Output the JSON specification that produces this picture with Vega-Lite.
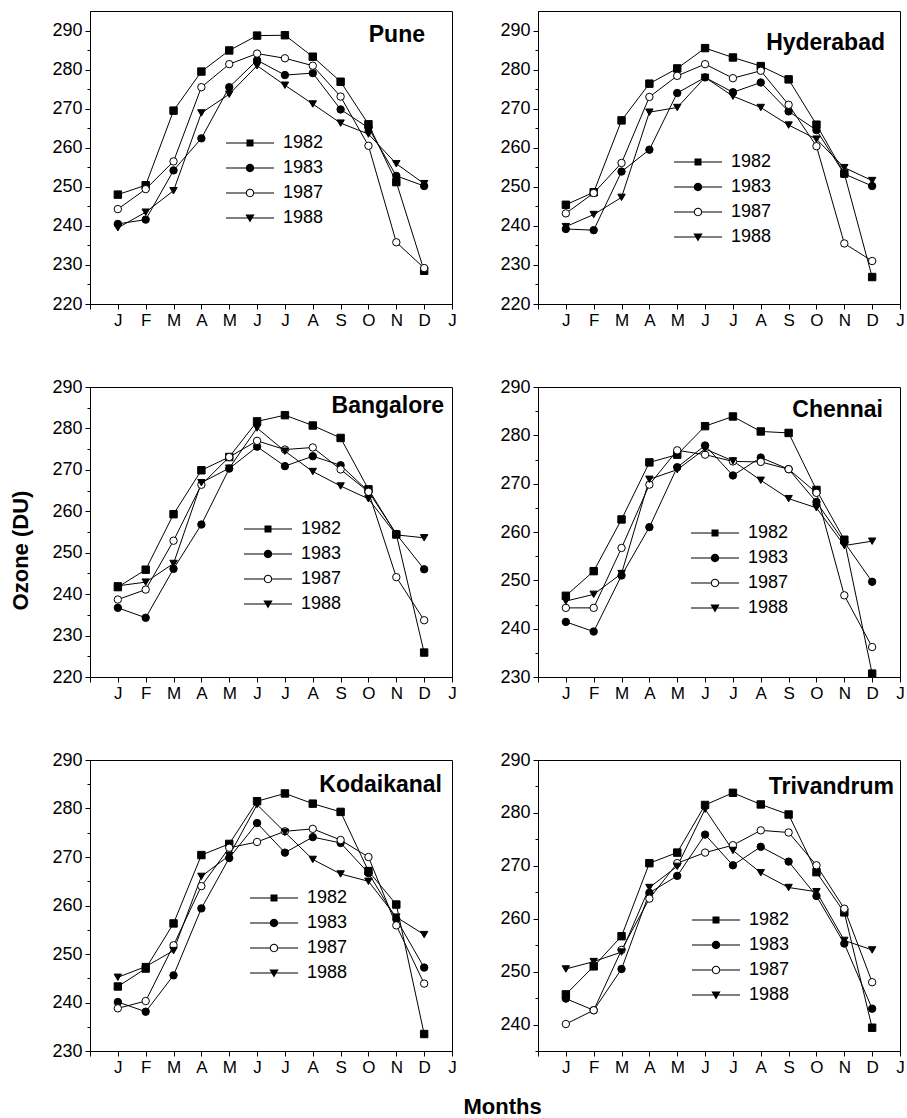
{
"$schema": "https://vega.github.io/schema/vega-lite/v6.json",
"padding": {"left": 8, "top": 10, "right": 5, "bottom": 5},
"config": {
 "view": {"stroke": "black", "strokeWidth": 1},
 "font": "Liberation Sans",
 "axis": {"domainColor": "black", "tickColor": "black", "labelColor": "black", "labelFont": "Liberation Sans", "labelFontSize": 17, "grid": false, "titleFont": "Liberation Sans", "titleColor": "black", "labelOverlap": false, "labelFlush": false, "tickWidth": 1, "domainWidth": 1},
 "axisX": {"labelPadding": 3, "tickSize": 5},
 "axisY": {"labelPadding": 3, "labelFontSize": 18},
 "legend": {"orient": "none", "title": null, "labelFont": "Liberation Sans", "labelFontSize": 18, "labelColor": "black", "padding": 0, "rowPadding": 7, "labelOffset": 24, "symbolSize": 64, "symbolFillColor": "black", "symbolStrokeWidth": 0, "symbolOpacity": 1},
 "title": {"font": "Liberation Sans", "fontSize": 23, "fontWeight": "bold", "color": "black", "anchor": "end", "frame": "group", "baseline": "alphabetic"}
},
"title": {"text": "Months", "orient": "bottom", "anchor": "middle", "fontSize": 22, "baseline": "top", "offset": 21, "dx": 46, "frame": "bounds"},
"datasets": {"oz": [
{"city":"Pune","year":"1982","month":1,"ozone":248.0},{"city":"Pune","year":"1982","month":2,"ozone":250.4},{"city":"Pune","year":"1982","month":3,"ozone":269.5},{"city":"Pune","year":"1982","month":4,"ozone":279.5},{"city":"Pune","year":"1982","month":5,"ozone":284.9},{"city":"Pune","year":"1982","month":6,"ozone":288.7},{"city":"Pune","year":"1982","month":7,"ozone":288.8},{"city":"Pune","year":"1982","month":8,"ozone":283.3},{"city":"Pune","year":"1982","month":9,"ozone":276.9},{"city":"Pune","year":"1982","month":10,"ozone":266.0},{"city":"Pune","year":"1982","month":11,"ozone":251.2},{"city":"Pune","year":"1982","month":12,"ozone":228.5},
{"city":"Pune","year":"1983","month":1,"ozone":240.5},{"city":"Pune","year":"1983","month":2,"ozone":241.6},{"city":"Pune","year":"1983","month":3,"ozone":254.2},{"city":"Pune","year":"1983","month":4,"ozone":262.4},{"city":"Pune","year":"1983","month":5,"ozone":275.5},{"city":"Pune","year":"1983","month":6,"ozone":282.4},{"city":"Pune","year":"1983","month":7,"ozone":278.6},{"city":"Pune","year":"1983","month":8,"ozone":279.1},{"city":"Pune","year":"1983","month":9,"ozone":269.8},{"city":"Pune","year":"1983","month":10,"ozone":265.1},{"city":"Pune","year":"1983","month":11,"ozone":252.8},{"city":"Pune","year":"1983","month":12,"ozone":250.2},
{"city":"Pune","year":"1987","month":1,"ozone":244.3},{"city":"Pune","year":"1987","month":2,"ozone":249.4},{"city":"Pune","year":"1987","month":3,"ozone":256.5},{"city":"Pune","year":"1987","month":4,"ozone":275.5},{"city":"Pune","year":"1987","month":5,"ozone":281.4},{"city":"Pune","year":"1987","month":6,"ozone":284.1},{"city":"Pune","year":"1987","month":7,"ozone":282.9},{"city":"Pune","year":"1987","month":8,"ozone":281.0},{"city":"Pune","year":"1987","month":9,"ozone":273.1},{"city":"Pune","year":"1987","month":10,"ozone":260.5},{"city":"Pune","year":"1987","month":11,"ozone":235.8},{"city":"Pune","year":"1987","month":12,"ozone":229.2},
{"city":"Pune","year":"1988","month":1,"ozone":239.5},{"city":"Pune","year":"1988","month":2,"ozone":243.5},{"city":"Pune","year":"1988","month":3,"ozone":249.0},{"city":"Pune","year":"1988","month":4,"ozone":268.9},{"city":"Pune","year":"1988","month":5,"ozone":273.7},{"city":"Pune","year":"1988","month":6,"ozone":281.0},{"city":"Pune","year":"1988","month":7,"ozone":276.0},{"city":"Pune","year":"1988","month":8,"ozone":271.2},{"city":"Pune","year":"1988","month":9,"ozone":266.3},{"city":"Pune","year":"1988","month":10,"ozone":263.5},{"city":"Pune","year":"1988","month":11,"ozone":255.9},{"city":"Pune","year":"1988","month":12,"ozone":250.8},
{"city":"Hyderabad","year":"1982","month":1,"ozone":245.4},{"city":"Hyderabad","year":"1982","month":2,"ozone":248.6},{"city":"Hyderabad","year":"1982","month":3,"ozone":267.0},{"city":"Hyderabad","year":"1982","month":4,"ozone":276.4},{"city":"Hyderabad","year":"1982","month":5,"ozone":280.3},{"city":"Hyderabad","year":"1982","month":6,"ozone":285.5},{"city":"Hyderabad","year":"1982","month":7,"ozone":283.1},{"city":"Hyderabad","year":"1982","month":8,"ozone":280.9},{"city":"Hyderabad","year":"1982","month":9,"ozone":277.5},{"city":"Hyderabad","year":"1982","month":10,"ozone":265.9},{"city":"Hyderabad","year":"1982","month":11,"ozone":253.4},{"city":"Hyderabad","year":"1982","month":12,"ozone":226.9},
{"city":"Hyderabad","year":"1983","month":1,"ozone":239.2},{"city":"Hyderabad","year":"1983","month":2,"ozone":238.9},{"city":"Hyderabad","year":"1983","month":3,"ozone":253.9},{"city":"Hyderabad","year":"1983","month":4,"ozone":259.5},{"city":"Hyderabad","year":"1983","month":5,"ozone":274.0},{"city":"Hyderabad","year":"1983","month":6,"ozone":278.0},{"city":"Hyderabad","year":"1983","month":7,"ozone":274.2},{"city":"Hyderabad","year":"1983","month":8,"ozone":276.7},{"city":"Hyderabad","year":"1983","month":9,"ozone":269.3},{"city":"Hyderabad","year":"1983","month":10,"ozone":264.5},{"city":"Hyderabad","year":"1983","month":11,"ozone":253.3},{"city":"Hyderabad","year":"1983","month":12,"ozone":250.2},
{"city":"Hyderabad","year":"1987","month":1,"ozone":243.2},{"city":"Hyderabad","year":"1987","month":2,"ozone":248.4},{"city":"Hyderabad","year":"1987","month":3,"ozone":256.1},{"city":"Hyderabad","year":"1987","month":4,"ozone":273.0},{"city":"Hyderabad","year":"1987","month":5,"ozone":278.4},{"city":"Hyderabad","year":"1987","month":6,"ozone":281.4},{"city":"Hyderabad","year":"1987","month":7,"ozone":277.8},{"city":"Hyderabad","year":"1987","month":8,"ozone":279.7},{"city":"Hyderabad","year":"1987","month":9,"ozone":271.0},{"city":"Hyderabad","year":"1987","month":10,"ozone":260.4},{"city":"Hyderabad","year":"1987","month":11,"ozone":235.5},{"city":"Hyderabad","year":"1987","month":12,"ozone":231.0},
{"city":"Hyderabad","year":"1988","month":1,"ozone":239.8},{"city":"Hyderabad","year":"1988","month":2,"ozone":242.9},{"city":"Hyderabad","year":"1988","month":3,"ozone":247.3},{"city":"Hyderabad","year":"1988","month":4,"ozone":269.1},{"city":"Hyderabad","year":"1988","month":5,"ozone":270.3},{"city":"Hyderabad","year":"1988","month":6,"ozone":278.0},{"city":"Hyderabad","year":"1988","month":7,"ozone":273.2},{"city":"Hyderabad","year":"1988","month":8,"ozone":270.3},{"city":"Hyderabad","year":"1988","month":9,"ozone":265.8},{"city":"Hyderabad","year":"1988","month":10,"ozone":262.2},{"city":"Hyderabad","year":"1988","month":11,"ozone":254.9},{"city":"Hyderabad","year":"1988","month":12,"ozone":251.6},
{"city":"Bangalore","year":"1982","month":1,"ozone":241.7},{"city":"Bangalore","year":"1982","month":2,"ozone":245.9},{"city":"Bangalore","year":"1982","month":3,"ozone":259.3},{"city":"Bangalore","year":"1982","month":4,"ozone":269.9},{"city":"Bangalore","year":"1982","month":5,"ozone":273.1},{"city":"Bangalore","year":"1982","month":6,"ozone":281.7},{"city":"Bangalore","year":"1982","month":7,"ozone":283.2},{"city":"Bangalore","year":"1982","month":8,"ozone":280.7},{"city":"Bangalore","year":"1982","month":9,"ozone":277.7},{"city":"Bangalore","year":"1982","month":10,"ozone":265.3},{"city":"Bangalore","year":"1982","month":11,"ozone":254.4},{"city":"Bangalore","year":"1982","month":12,"ozone":225.9},
{"city":"Bangalore","year":"1983","month":1,"ozone":236.7},{"city":"Bangalore","year":"1983","month":2,"ozone":234.3},{"city":"Bangalore","year":"1983","month":3,"ozone":246.1},{"city":"Bangalore","year":"1983","month":4,"ozone":256.8},{"city":"Bangalore","year":"1983","month":5,"ozone":270.3},{"city":"Bangalore","year":"1983","month":6,"ozone":275.6},{"city":"Bangalore","year":"1983","month":7,"ozone":270.9},{"city":"Bangalore","year":"1983","month":8,"ozone":273.3},{"city":"Bangalore","year":"1983","month":9,"ozone":271.1},{"city":"Bangalore","year":"1983","month":10,"ozone":264.8},{"city":"Bangalore","year":"1983","month":11,"ozone":254.5},{"city":"Bangalore","year":"1983","month":12,"ozone":246.0},
{"city":"Bangalore","year":"1987","month":1,"ozone":238.7},{"city":"Bangalore","year":"1987","month":2,"ozone":241.1},{"city":"Bangalore","year":"1987","month":3,"ozone":252.9},{"city":"Bangalore","year":"1987","month":4,"ozone":266.4},{"city":"Bangalore","year":"1987","month":5,"ozone":273.1},{"city":"Bangalore","year":"1987","month":6,"ozone":277.0},{"city":"Bangalore","year":"1987","month":7,"ozone":274.9},{"city":"Bangalore","year":"1987","month":8,"ozone":275.4},{"city":"Bangalore","year":"1987","month":9,"ozone":270.1},{"city":"Bangalore","year":"1987","month":10,"ozone":264.7},{"city":"Bangalore","year":"1987","month":11,"ozone":244.1},{"city":"Bangalore","year":"1987","month":12,"ozone":233.7},
{"city":"Bangalore","year":"1988","month":1,"ozone":242.0},{"city":"Bangalore","year":"1988","month":2,"ozone":242.9},{"city":"Bangalore","year":"1988","month":3,"ozone":247.4},{"city":"Bangalore","year":"1988","month":4,"ozone":266.9},{"city":"Bangalore","year":"1988","month":5,"ozone":270.4},{"city":"Bangalore","year":"1988","month":6,"ozone":280.1},{"city":"Bangalore","year":"1988","month":7,"ozone":274.5},{"city":"Bangalore","year":"1988","month":8,"ozone":269.6},{"city":"Bangalore","year":"1988","month":9,"ozone":266.1},{"city":"Bangalore","year":"1988","month":10,"ozone":263.0},{"city":"Bangalore","year":"1988","month":11,"ozone":254.3},{"city":"Bangalore","year":"1988","month":12,"ozone":253.6},
{"city":"Chennai","year":"1982","month":1,"ozone":246.8},{"city":"Chennai","year":"1982","month":2,"ozone":251.9},{"city":"Chennai","year":"1982","month":3,"ozone":262.6},{"city":"Chennai","year":"1982","month":4,"ozone":274.4},{"city":"Chennai","year":"1982","month":5,"ozone":276.0},{"city":"Chennai","year":"1982","month":6,"ozone":281.9},{"city":"Chennai","year":"1982","month":7,"ozone":283.9},{"city":"Chennai","year":"1982","month":8,"ozone":280.8},{"city":"Chennai","year":"1982","month":9,"ozone":280.5},{"city":"Chennai","year":"1982","month":10,"ozone":268.7},{"city":"Chennai","year":"1982","month":11,"ozone":258.4},{"city":"Chennai","year":"1982","month":12,"ozone":230.7},
{"city":"Chennai","year":"1983","month":1,"ozone":241.4},{"city":"Chennai","year":"1983","month":2,"ozone":239.4},{"city":"Chennai","year":"1983","month":3,"ozone":251.0},{"city":"Chennai","year":"1983","month":4,"ozone":261.0},{"city":"Chennai","year":"1983","month":5,"ozone":273.4},{"city":"Chennai","year":"1983","month":6,"ozone":277.9},{"city":"Chennai","year":"1983","month":7,"ozone":271.7},{"city":"Chennai","year":"1983","month":8,"ozone":275.4},{"city":"Chennai","year":"1983","month":9,"ozone":273.0},{"city":"Chennai","year":"1983","month":10,"ozone":266.2},{"city":"Chennai","year":"1983","month":11,"ozone":257.9},{"city":"Chennai","year":"1983","month":12,"ozone":249.7},
{"city":"Chennai","year":"1987","month":1,"ozone":244.3},{"city":"Chennai","year":"1987","month":2,"ozone":244.3},{"city":"Chennai","year":"1987","month":3,"ozone":256.7},{"city":"Chennai","year":"1987","month":4,"ozone":269.8},{"city":"Chennai","year":"1987","month":5,"ozone":276.9},{"city":"Chennai","year":"1987","month":6,"ozone":276.0},{"city":"Chennai","year":"1987","month":7,"ozone":274.6},{"city":"Chennai","year":"1987","month":8,"ozone":274.5},{"city":"Chennai","year":"1987","month":9,"ozone":273.0},{"city":"Chennai","year":"1987","month":10,"ozone":268.1},{"city":"Chennai","year":"1987","month":11,"ozone":246.9},{"city":"Chennai","year":"1987","month":12,"ozone":236.2},
{"city":"Chennai","year":"1988","month":1,"ozone":245.7},{"city":"Chennai","year":"1988","month":2,"ozone":247.1},{"city":"Chennai","year":"1988","month":3,"ozone":251.4},{"city":"Chennai","year":"1988","month":4,"ozone":270.9},{"city":"Chennai","year":"1988","month":5,"ozone":272.9},{"city":"Chennai","year":"1988","month":6,"ozone":277.2},{"city":"Chennai","year":"1988","month":7,"ozone":274.7},{"city":"Chennai","year":"1988","month":8,"ozone":270.7},{"city":"Chennai","year":"1988","month":9,"ozone":266.9},{"city":"Chennai","year":"1988","month":10,"ozone":265.0},{"city":"Chennai","year":"1988","month":11,"ozone":257.2},{"city":"Chennai","year":"1988","month":12,"ozone":258.1},
{"city":"Kodaikanal","year":"1982","month":1,"ozone":243.3},{"city":"Kodaikanal","year":"1982","month":2,"ozone":247.0},{"city":"Kodaikanal","year":"1982","month":3,"ozone":256.3},{"city":"Kodaikanal","year":"1982","month":4,"ozone":270.4},{"city":"Kodaikanal","year":"1982","month":5,"ozone":272.7},{"city":"Kodaikanal","year":"1982","month":6,"ozone":281.5},{"city":"Kodaikanal","year":"1982","month":7,"ozone":283.1},{"city":"Kodaikanal","year":"1982","month":8,"ozone":281.0},{"city":"Kodaikanal","year":"1982","month":9,"ozone":279.3},{"city":"Kodaikanal","year":"1982","month":10,"ozone":267.1},{"city":"Kodaikanal","year":"1982","month":11,"ozone":260.2},{"city":"Kodaikanal","year":"1982","month":12,"ozone":233.5},
{"city":"Kodaikanal","year":"1983","month":1,"ozone":240.1},{"city":"Kodaikanal","year":"1983","month":2,"ozone":238.1},{"city":"Kodaikanal","year":"1983","month":3,"ozone":245.6},{"city":"Kodaikanal","year":"1983","month":4,"ozone":259.4},{"city":"Kodaikanal","year":"1983","month":5,"ozone":269.8},{"city":"Kodaikanal","year":"1983","month":6,"ozone":277.0},{"city":"Kodaikanal","year":"1983","month":7,"ozone":270.9},{"city":"Kodaikanal","year":"1983","month":8,"ozone":274.1},{"city":"Kodaikanal","year":"1983","month":9,"ozone":272.9},{"city":"Kodaikanal","year":"1983","month":10,"ozone":266.7},{"city":"Kodaikanal","year":"1983","month":11,"ozone":257.2},{"city":"Kodaikanal","year":"1983","month":12,"ozone":247.2},
{"city":"Kodaikanal","year":"1987","month":1,"ozone":238.8},{"city":"Kodaikanal","year":"1987","month":2,"ozone":240.3},{"city":"Kodaikanal","year":"1987","month":3,"ozone":251.8},{"city":"Kodaikanal","year":"1987","month":4,"ozone":264.0},{"city":"Kodaikanal","year":"1987","month":5,"ozone":271.9},{"city":"Kodaikanal","year":"1987","month":6,"ozone":273.1},{"city":"Kodaikanal","year":"1987","month":7,"ozone":275.3},{"city":"Kodaikanal","year":"1987","month":8,"ozone":275.8},{"city":"Kodaikanal","year":"1987","month":9,"ozone":273.5},{"city":"Kodaikanal","year":"1987","month":10,"ozone":270.0},{"city":"Kodaikanal","year":"1987","month":11,"ozone":255.9},{"city":"Kodaikanal","year":"1987","month":12,"ozone":243.9},
{"city":"Kodaikanal","year":"1988","month":1,"ozone":245.2},{"city":"Kodaikanal","year":"1988","month":2,"ozone":247.4},{"city":"Kodaikanal","year":"1988","month":3,"ozone":250.7},{"city":"Kodaikanal","year":"1988","month":4,"ozone":266.0},{"city":"Kodaikanal","year":"1988","month":5,"ozone":270.3},{"city":"Kodaikanal","year":"1988","month":6,"ozone":280.8},{"city":"Kodaikanal","year":"1988","month":7,"ozone":275.1},{"city":"Kodaikanal","year":"1988","month":8,"ozone":269.5},{"city":"Kodaikanal","year":"1988","month":9,"ozone":266.5},{"city":"Kodaikanal","year":"1988","month":10,"ozone":265.0},{"city":"Kodaikanal","year":"1988","month":11,"ozone":257.6},{"city":"Kodaikanal","year":"1988","month":12,"ozone":254.0},
{"city":"Trivandrum","year":"1982","month":1,"ozone":245.7},{"city":"Trivandrum","year":"1982","month":2,"ozone":251.0},{"city":"Trivandrum","year":"1982","month":3,"ozone":256.7},{"city":"Trivandrum","year":"1982","month":4,"ozone":270.5},{"city":"Trivandrum","year":"1982","month":5,"ozone":272.5},{"city":"Trivandrum","year":"1982","month":6,"ozone":281.5},{"city":"Trivandrum","year":"1982","month":7,"ozone":283.8},{"city":"Trivandrum","year":"1982","month":8,"ozone":281.6},{"city":"Trivandrum","year":"1982","month":9,"ozone":279.7},{"city":"Trivandrum","year":"1982","month":10,"ozone":268.8},{"city":"Trivandrum","year":"1982","month":11,"ozone":261.2},{"city":"Trivandrum","year":"1982","month":12,"ozone":239.4},
{"city":"Trivandrum","year":"1983","month":1,"ozone":244.9},{"city":"Trivandrum","year":"1983","month":2,"ozone":242.7},{"city":"Trivandrum","year":"1983","month":3,"ozone":250.5},{"city":"Trivandrum","year":"1983","month":4,"ozone":264.9},{"city":"Trivandrum","year":"1983","month":5,"ozone":268.1},{"city":"Trivandrum","year":"1983","month":6,"ozone":275.9},{"city":"Trivandrum","year":"1983","month":7,"ozone":270.1},{"city":"Trivandrum","year":"1983","month":8,"ozone":273.6},{"city":"Trivandrum","year":"1983","month":9,"ozone":270.8},{"city":"Trivandrum","year":"1983","month":10,"ozone":264.3},{"city":"Trivandrum","year":"1983","month":11,"ozone":255.3},{"city":"Trivandrum","year":"1983","month":12,"ozone":243.0},
{"city":"Trivandrum","year":"1987","month":1,"ozone":240.1},{"city":"Trivandrum","year":"1987","month":2,"ozone":242.7},{"city":"Trivandrum","year":"1987","month":3,"ozone":254.1},{"city":"Trivandrum","year":"1987","month":4,"ozone":263.8},{"city":"Trivandrum","year":"1987","month":5,"ozone":270.5},{"city":"Trivandrum","year":"1987","month":6,"ozone":272.5},{"city":"Trivandrum","year":"1987","month":7,"ozone":273.9},{"city":"Trivandrum","year":"1987","month":8,"ozone":276.7},{"city":"Trivandrum","year":"1987","month":9,"ozone":276.3},{"city":"Trivandrum","year":"1987","month":10,"ozone":270.1},{"city":"Trivandrum","year":"1987","month":11,"ozone":261.9},{"city":"Trivandrum","year":"1987","month":12,"ozone":248.0},
{"city":"Trivandrum","year":"1988","month":1,"ozone":250.5},{"city":"Trivandrum","year":"1988","month":2,"ozone":251.9},{"city":"Trivandrum","year":"1988","month":3,"ozone":253.7},{"city":"Trivandrum","year":"1988","month":4,"ozone":265.9},{"city":"Trivandrum","year":"1988","month":5,"ozone":269.9},{"city":"Trivandrum","year":"1988","month":6,"ozone":280.7},{"city":"Trivandrum","year":"1988","month":7,"ozone":272.9},{"city":"Trivandrum","year":"1988","month":8,"ozone":268.7},{"city":"Trivandrum","year":"1988","month":9,"ozone":265.9},{"city":"Trivandrum","year":"1988","month":10,"ozone":265.1},{"city":"Trivandrum","year":"1988","month":11,"ozone":255.9},{"city":"Trivandrum","year":"1988","month":12,"ozone":254.1}
]},
"columns": 2,
"bounds": "flush",
"spacing": {"row": 83, "column": 86},
"resolve": {"scale": {"shape": "independent", "fill": "independent"}},
"concat": [
{"width": 362, "height": 293, "data": {"name": "oz"}, "transform": [{"filter": "datum.city == 'Pune'"}],
 "title": {"text": "Pune", "dx": -27, "offset": -36},
 "encoding": {
  "x": {"field": "month", "type": "quantitative", "scale": {"domain": [0, 13], "nice": false}, "axis": {"title": null, "values": [0,1,2,3,4,5,6,7,8,9,10,11,12,13], "labelExpr": "['','J','F','M','A','M','J','J','A','S','O','N','D','J'][datum.value]"}},
  "y": {"field": "ozone", "type": "quantitative", "scale": {"domain": [220, 295], "nice": false, "zero": false}, "axis": {"title": null, "values": [220,225,230,235,240,245,250,255,260,265,270,275,280,285,290], "labelExpr": "datum.value % 10 == 0 ? datum.label : ''", "tickSize": {"condition": {"test": "datum.value % 10 != 0", "value": 3}, "value": 5}}}
 },
 "resolve": {"scale": {"shape": "independent", "fill": "independent"}},
 "layer": [
  {"mark": {"type": "line", "color": "black", "strokeWidth": 1}, "encoding": {"detail": {"field": "year", "type": "nominal"}}},
  {"mark": {"type": "point", "filled": true, "size": 55, "stroke": "black", "strokeWidth": 1, "opacity": 1},
   "encoding": {
    "shape": {"field": "year", "type": "nominal", "scale": {"domain": ["1982","1983","1987","1988"], "range": ["square","circle","circle","triangle-down"]}, "legend": null},
    "fill": {"field": "year", "type": "nominal", "scale": {"domain": ["1982","1983","1987","1988"], "range": ["black","black","white","black"]}, "legend": null}
   }},
  {"transform": [{"filter": "datum.month > 12"}],
   "mark": {"type": "point", "filled": true, "color": "black"},
   "encoding": {
    "shape": {"field": "year", "type": "nominal", "scale": {"domain": ["1982","1983","1987","1988"], "range": ["M-6,-0.125H6V0.125H-6ZM-0.875,-0.875H0.875V0.875H-0.875Z", "M-6,-0.125H-1V0.125H-6ZM1,-0.125H6V0.125H1ZM-1.05,0A1.05,1.05,0,1,1,1.05,0A1.05,1.05,0,1,1,-1.05,0Z", "M-6,-0.125H-1V0.125H-6ZM1,-0.125H6V0.125H1ZM-1.05,0A1.05,1.05,0,1,1,1.05,0A1.05,1.05,0,1,1,-1.05,0ZM-0.8,0A0.8,0.8,0,1,0,0.8,0A0.8,0.8,0,1,0,-0.8,0Z", "M-6,-0.125H6V0.125H-6ZM-1.15,-0.9H1.15L0,1.1Z"]}, "legend": {"legendX": 151, "legendY": 123}}
   }}
 ]},
{"width": 362, "height": 293, "data": {"name": "oz"}, "transform": [{"filter": "datum.city == 'Hyderabad'"}],
 "title": {"text": "Hyderabad", "dx": -15, "offset": -44},
 "encoding": {
  "x": {"field": "month", "type": "quantitative", "scale": {"domain": [0, 13], "nice": false}, "axis": {"title": null, "values": [0,1,2,3,4,5,6,7,8,9,10,11,12,13], "labelExpr": "['','J','F','M','A','M','J','J','A','S','O','N','D','J'][datum.value]"}},
  "y": {"field": "ozone", "type": "quantitative", "scale": {"domain": [220, 295], "nice": false, "zero": false}, "axis": {"title": null, "values": [220,225,230,235,240,245,250,255,260,265,270,275,280,285,290], "labelExpr": "datum.value % 10 == 0 ? datum.label : ''", "tickSize": {"condition": {"test": "datum.value % 10 != 0", "value": 3}, "value": 5}}}
 },
 "resolve": {"scale": {"shape": "independent", "fill": "independent"}},
 "layer": [
  {"mark": {"type": "line", "color": "black", "strokeWidth": 1}, "encoding": {"detail": {"field": "year", "type": "nominal"}}},
  {"mark": {"type": "point", "filled": true, "size": 55, "stroke": "black", "strokeWidth": 1, "opacity": 1},
   "encoding": {
    "shape": {"field": "year", "type": "nominal", "scale": {"domain": ["1982","1983","1987","1988"], "range": ["square","circle","circle","triangle-down"]}, "legend": null},
    "fill": {"field": "year", "type": "nominal", "scale": {"domain": ["1982","1983","1987","1988"], "range": ["black","black","white","black"]}, "legend": null}
   }},
  {"transform": [{"filter": "datum.month > 12"}],
   "mark": {"type": "point", "filled": true, "color": "black"},
   "encoding": {
    "shape": {"field": "year", "type": "nominal", "scale": {"domain": ["1982","1983","1987","1988"], "range": ["M-6,-0.125H6V0.125H-6ZM-0.875,-0.875H0.875V0.875H-0.875Z", "M-6,-0.125H-1V0.125H-6ZM1,-0.125H6V0.125H1ZM-1.05,0A1.05,1.05,0,1,1,1.05,0A1.05,1.05,0,1,1,-1.05,0Z", "M-6,-0.125H-1V0.125H-6ZM1,-0.125H6V0.125H1ZM-1.05,0A1.05,1.05,0,1,1,1.05,0A1.05,1.05,0,1,1,-1.05,0ZM-0.8,0A0.8,0.8,0,1,0,0.8,0A0.8,0.8,0,1,0,-0.8,0Z", "M-6,-0.125H6V0.125H-6ZM-1.15,-0.9H1.15L0,1.1Z"]}, "legend": {"legendX": 151, "legendY": 142}}
   }}
 ]},
{"width": 362, "height": 290, "data": {"name": "oz"}, "transform": [{"filter": "datum.city == 'Bangalore'"}],
 "title": {"text": "Bangalore", "dx": -8, "offset": -40},
 "encoding": {
  "x": {"field": "month", "type": "quantitative", "scale": {"domain": [0, 13], "nice": false}, "axis": {"title": null, "values": [0,1,2,3,4,5,6,7,8,9,10,11,12,13], "labelExpr": "['','J','F','M','A','M','J','J','A','S','O','N','D','J'][datum.value]"}},
  "y": {"field": "ozone", "type": "quantitative", "scale": {"domain": [220, 290], "nice": false, "zero": false}, "axis": {"title": "Ozone (DU)", "titleFontSize": 22, "titleFontWeight": "bold", "titleX": -58, "titleY": 163, "titleAngle": 270, "titleAlign": "center", "titleBaseline": "bottom", "values": [220,225,230,235,240,245,250,255,260,265,270,275,280,285,290], "labelExpr": "datum.value % 10 == 0 ? datum.label : ''", "tickSize": {"condition": {"test": "datum.value % 10 != 0", "value": 3}, "value": 5}}}
 },
 "resolve": {"scale": {"shape": "independent", "fill": "independent"}},
 "layer": [
  {"mark": {"type": "line", "color": "black", "strokeWidth": 1}, "encoding": {"detail": {"field": "year", "type": "nominal"}}},
  {"mark": {"type": "point", "filled": true, "size": 55, "stroke": "black", "strokeWidth": 1, "opacity": 1},
   "encoding": {
    "shape": {"field": "year", "type": "nominal", "scale": {"domain": ["1982","1983","1987","1988"], "range": ["square","circle","circle","triangle-down"]}, "legend": null},
    "fill": {"field": "year", "type": "nominal", "scale": {"domain": ["1982","1983","1987","1988"], "range": ["black","black","white","black"]}, "legend": null}
   }},
  {"transform": [{"filter": "datum.month > 12"}],
   "mark": {"type": "point", "filled": true, "color": "black"},
   "encoding": {
    "shape": {"field": "year", "type": "nominal", "scale": {"domain": ["1982","1983","1987","1988"], "range": ["M-6,-0.125H6V0.125H-6ZM-0.875,-0.875H0.875V0.875H-0.875Z", "M-6,-0.125H-1V0.125H-6ZM1,-0.125H6V0.125H1ZM-1.05,0A1.05,1.05,0,1,1,1.05,0A1.05,1.05,0,1,1,-1.05,0Z", "M-6,-0.125H-1V0.125H-6ZM1,-0.125H6V0.125H1ZM-1.05,0A1.05,1.05,0,1,1,1.05,0A1.05,1.05,0,1,1,-1.05,0ZM-0.8,0A0.8,0.8,0,1,0,0.8,0A0.8,0.8,0,1,0,-0.8,0Z", "M-6,-0.125H6V0.125H-6ZM-1.15,-0.9H1.15L0,1.1Z"]}, "legend": {"legendX": 169, "legendY": 133}}
   }}
 ]},
{"width": 362, "height": 290, "data": {"name": "oz"}, "transform": [{"filter": "datum.city == 'Chennai'"}],
 "title": {"text": "Chennai", "dx": -17, "offset": -44},
 "encoding": {
  "x": {"field": "month", "type": "quantitative", "scale": {"domain": [0, 13], "nice": false}, "axis": {"title": null, "values": [0,1,2,3,4,5,6,7,8,9,10,11,12,13], "labelExpr": "['','J','F','M','A','M','J','J','A','S','O','N','D','J'][datum.value]"}},
  "y": {"field": "ozone", "type": "quantitative", "scale": {"domain": [230, 290], "nice": false, "zero": false}, "axis": {"title": null, "values": [230,235,240,245,250,255,260,265,270,275,280,285,290], "labelExpr": "datum.value % 10 == 0 ? datum.label : ''", "tickSize": {"condition": {"test": "datum.value % 10 != 0", "value": 3}, "value": 5}}}
 },
 "resolve": {"scale": {"shape": "independent", "fill": "independent"}},
 "layer": [
  {"mark": {"type": "line", "color": "black", "strokeWidth": 1}, "encoding": {"detail": {"field": "year", "type": "nominal"}}},
  {"mark": {"type": "point", "filled": true, "size": 55, "stroke": "black", "strokeWidth": 1, "opacity": 1},
   "encoding": {
    "shape": {"field": "year", "type": "nominal", "scale": {"domain": ["1982","1983","1987","1988"], "range": ["square","circle","circle","triangle-down"]}, "legend": null},
    "fill": {"field": "year", "type": "nominal", "scale": {"domain": ["1982","1983","1987","1988"], "range": ["black","black","white","black"]}, "legend": null}
   }},
  {"transform": [{"filter": "datum.month > 12"}],
   "mark": {"type": "point", "filled": true, "color": "black"},
   "encoding": {
    "shape": {"field": "year", "type": "nominal", "scale": {"domain": ["1982","1983","1987","1988"], "range": ["M-6,-0.125H6V0.125H-6ZM-0.875,-0.875H0.875V0.875H-0.875Z", "M-6,-0.125H-1V0.125H-6ZM1,-0.125H6V0.125H1ZM-1.05,0A1.05,1.05,0,1,1,1.05,0A1.05,1.05,0,1,1,-1.05,0Z", "M-6,-0.125H-1V0.125H-6ZM1,-0.125H6V0.125H1ZM-1.05,0A1.05,1.05,0,1,1,1.05,0A1.05,1.05,0,1,1,-1.05,0ZM-0.8,0A0.8,0.8,0,1,0,0.8,0A0.8,0.8,0,1,0,-0.8,0Z", "M-6,-0.125H6V0.125H-6ZM-1.15,-0.9H1.15L0,1.1Z"]}, "legend": {"legendX": 168, "legendY": 137}}
   }}
 ]},
{"width": 362, "height": 291, "data": {"name": "oz"}, "transform": [{"filter": "datum.city == 'Kodaikanal'"}],
 "title": {"text": "Kodaikanal", "dx": -10, "offset": -46},
 "encoding": {
  "x": {"field": "month", "type": "quantitative", "scale": {"domain": [0, 13], "nice": false}, "axis": {"title": null, "values": [0,1,2,3,4,5,6,7,8,9,10,11,12,13], "labelExpr": "['','J','F','M','A','M','J','J','A','S','O','N','D','J'][datum.value]"}},
  "y": {"field": "ozone", "type": "quantitative", "scale": {"domain": [230, 290], "nice": false, "zero": false}, "axis": {"title": null, "values": [230,235,240,245,250,255,260,265,270,275,280,285,290], "labelExpr": "datum.value % 10 == 0 ? datum.label : ''", "tickSize": {"condition": {"test": "datum.value % 10 != 0", "value": 3}, "value": 5}}}
 },
 "resolve": {"scale": {"shape": "independent", "fill": "independent"}},
 "layer": [
  {"mark": {"type": "line", "color": "black", "strokeWidth": 1}, "encoding": {"detail": {"field": "year", "type": "nominal"}}},
  {"mark": {"type": "point", "filled": true, "size": 55, "stroke": "black", "strokeWidth": 1, "opacity": 1},
   "encoding": {
    "shape": {"field": "year", "type": "nominal", "scale": {"domain": ["1982","1983","1987","1988"], "range": ["square","circle","circle","triangle-down"]}, "legend": null},
    "fill": {"field": "year", "type": "nominal", "scale": {"domain": ["1982","1983","1987","1988"], "range": ["black","black","white","black"]}, "legend": null}
   }},
  {"transform": [{"filter": "datum.month > 12"}],
   "mark": {"type": "point", "filled": true, "color": "black"},
   "encoding": {
    "shape": {"field": "year", "type": "nominal", "scale": {"domain": ["1982","1983","1987","1988"], "range": ["M-6,-0.125H6V0.125H-6ZM-0.875,-0.875H0.875V0.875H-0.875Z", "M-6,-0.125H-1V0.125H-6ZM1,-0.125H6V0.125H1ZM-1.05,0A1.05,1.05,0,1,1,1.05,0A1.05,1.05,0,1,1,-1.05,0Z", "M-6,-0.125H-1V0.125H-6ZM1,-0.125H6V0.125H1ZM-1.05,0A1.05,1.05,0,1,1,1.05,0A1.05,1.05,0,1,1,-1.05,0ZM-0.8,0A0.8,0.8,0,1,0,0.8,0A0.8,0.8,0,1,0,-0.8,0Z", "M-6,-0.125H6V0.125H-6ZM-1.15,-0.9H1.15L0,1.1Z"]}, "legend": {"legendX": 175, "legendY": 129}}
   }}
 ]},
{"width": 362, "height": 291, "data": {"name": "oz"}, "transform": [{"filter": "datum.city == 'Trivandrum'"}],
 "title": {"text": "Trivandrum", "dx": -6, "offset": -48},
 "encoding": {
  "x": {"field": "month", "type": "quantitative", "scale": {"domain": [0, 13], "nice": false}, "axis": {"title": null, "values": [0,1,2,3,4,5,6,7,8,9,10,11,12,13], "labelExpr": "['','J','F','M','A','M','J','J','A','S','O','N','D','J'][datum.value]"}},
  "y": {"field": "ozone", "type": "quantitative", "scale": {"domain": [235, 290], "nice": false, "zero": false}, "axis": {"title": null, "values": [235,240,245,250,255,260,265,270,275,280,285,290], "labelExpr": "datum.value % 10 == 0 ? datum.label : ''", "tickSize": {"condition": {"test": "datum.value % 10 != 0", "value": 3}, "value": 5}}}
 },
 "resolve": {"scale": {"shape": "independent", "fill": "independent"}},
 "layer": [
  {"mark": {"type": "line", "color": "black", "strokeWidth": 1}, "encoding": {"detail": {"field": "year", "type": "nominal"}}},
  {"mark": {"type": "point", "filled": true, "size": 55, "stroke": "black", "strokeWidth": 1, "opacity": 1},
   "encoding": {
    "shape": {"field": "year", "type": "nominal", "scale": {"domain": ["1982","1983","1987","1988"], "range": ["square","circle","circle","triangle-down"]}, "legend": null},
    "fill": {"field": "year", "type": "nominal", "scale": {"domain": ["1982","1983","1987","1988"], "range": ["black","black","white","black"]}, "legend": null}
   }},
  {"transform": [{"filter": "datum.month > 12"}],
   "mark": {"type": "point", "filled": true, "color": "black"},
   "encoding": {
    "shape": {"field": "year", "type": "nominal", "scale": {"domain": ["1982","1983","1987","1988"], "range": ["M-6,-0.125H6V0.125H-6ZM-0.875,-0.875H0.875V0.875H-0.875Z", "M-6,-0.125H-1V0.125H-6ZM1,-0.125H6V0.125H1ZM-1.05,0A1.05,1.05,0,1,1,1.05,0A1.05,1.05,0,1,1,-1.05,0Z", "M-6,-0.125H-1V0.125H-6ZM1,-0.125H6V0.125H1ZM-1.05,0A1.05,1.05,0,1,1,1.05,0A1.05,1.05,0,1,1,-1.05,0ZM-0.8,0A0.8,0.8,0,1,0,0.8,0A0.8,0.8,0,1,0,-0.8,0Z", "M-6,-0.125H6V0.125H-6ZM-1.15,-0.9H1.15L0,1.1Z"]}, "legend": {"legendX": 169, "legendY": 151}}
   }}
 ]}
]
}
